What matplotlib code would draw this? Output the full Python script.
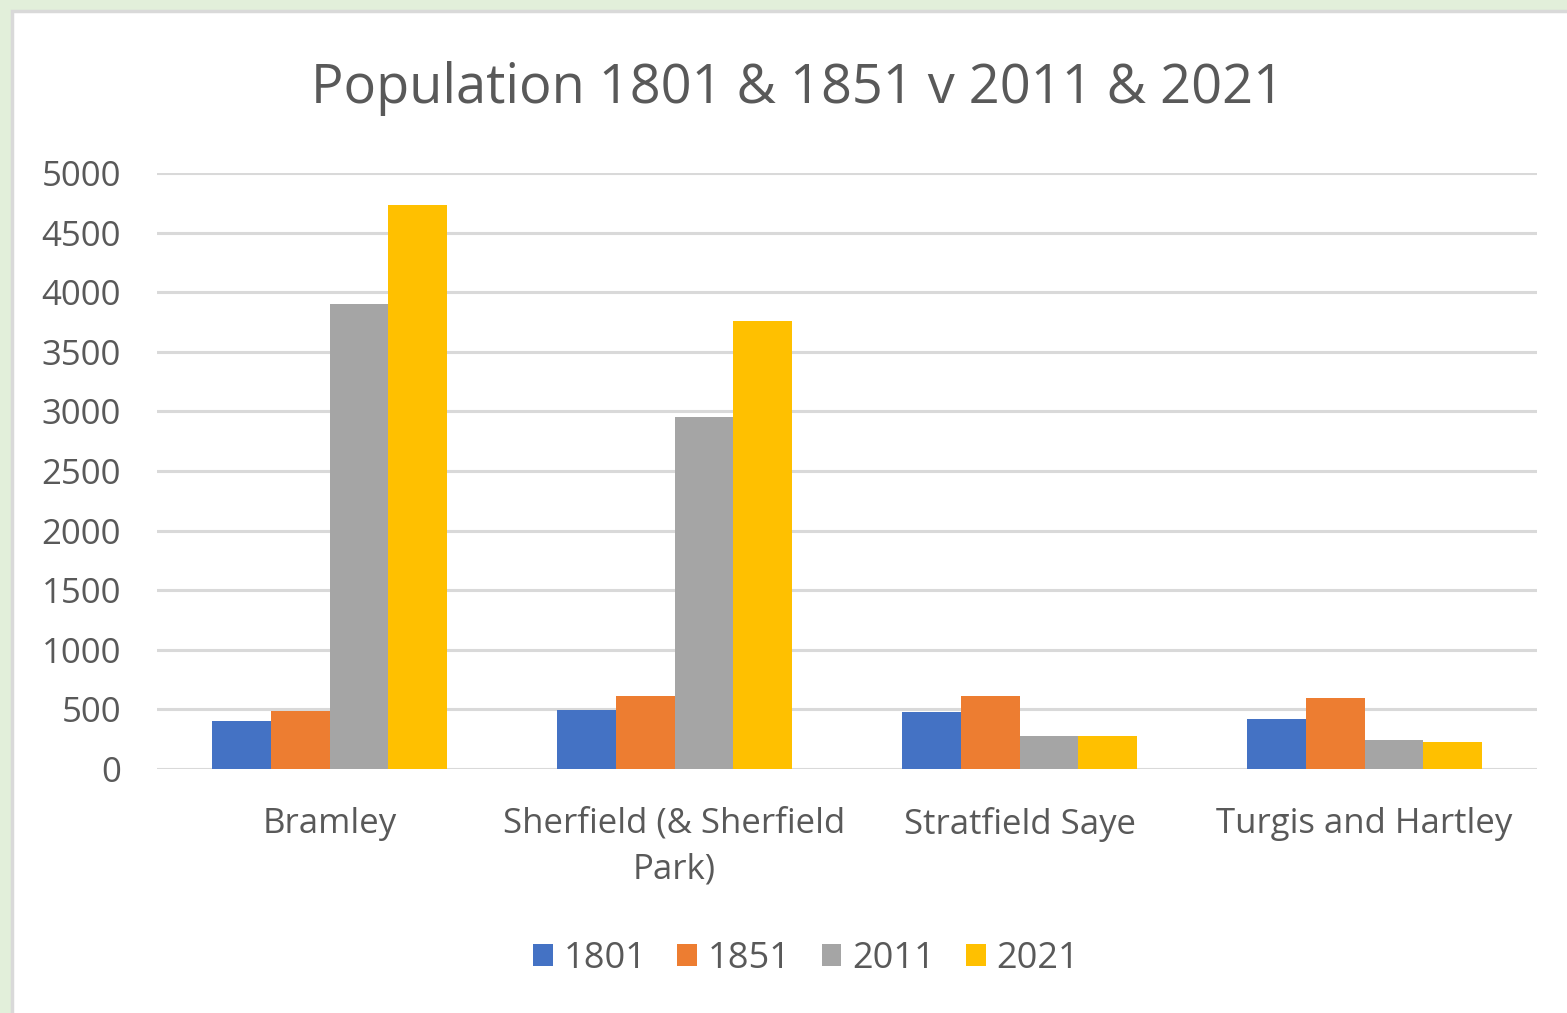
import numpy as np
import matplotlib.pyplot as plt
from matplotlib.patches import Patch, Rectangle

plt.rcParams['font.family'] = ['Open Sans', 'DejaVu Sans']

# data
places = ["Bramley", "Sherfield (& Sherfield\nPark)", "Stratfield Saye", "Turgis and Hartley"]
years = ["1801", "1851", "2011", "2021"]
pop_1801 = [400, 495, 476, 419]
pop_1851 = [490, 615, 615, 593]
pop_2011 = [3900, 2956, 277, 243]
pop_2021 = [4730, 3761, 280, 226]
series = [pop_1801, pop_1851, pop_2011, pop_2021]
colors = ["#4472C4", "#ED7D31", "#A5A5A5", "#FFC000"]
yticks = [0, 500, 1000, 1500, 2000, 2500, 3000, 3500, 4000, 4500, 5000]

text_col = "#595959"
grid_col = "#D9D9D9"

fig = plt.figure(figsize=(15.67, 10.13), dpi=100)
fig.patch.set_facecolor("#E2EFDA")
# white chart area with grey border
fig.patches.append(Rectangle((12 / 1567, -0.05), 1.1, 1 - 11 / 1013 + 0.05,
                             transform=fig.transFigure, facecolor="white",
                             edgecolor=grid_col, linewidth=2.5, zorder=-10))

ax = fig.add_axes([157 / 1567, 244 / 1013, 1380 / 1567, 596 / 1013])
ax.set_facecolor("none")

x = np.arange(len(places))
w = 0.17
for i, vals in enumerate(series):
    ax.bar(x + (i - 1.5) * w, vals, width=w, color=colors[i], zorder=3)

ax.set_xlim(-0.5, len(places) - 0.5)
ax.set_ylim(0, 5000)
ax.set_yticks(yticks)
ax.set_xticks(x)
ax.set_xticklabels(places, linespacing=1.45)
ax.grid(axis="y", color=grid_col, linewidth=2.2, zorder=0)
for s in ax.spines.values():
    s.set_visible(False)
ax.tick_params(axis="both", length=0, labelsize=25, colors=text_col)
ax.tick_params(axis="y", pad=26)
ax.tick_params(axis="x", pad=27)

fig.text(798 / 1567, 1 - 88 / 1013, "Population 1801 & 1851 v 2011 & 2021",
         ha="center", va="center", fontsize=39, color=text_col)

handles = [Patch(facecolor=c) for c in colors]
leg = fig.legend(handles, years, loc="center", bbox_to_anchor=(806 / 1567, 1 - 959 / 1013),
                 ncol=4, frameon=False, fontsize=26, handlelength=0.55, handleheight=0.55,
                 handletextpad=0.3, columnspacing=0.85)
for t in leg.get_texts():
    t.set_color(text_col)

fig.savefig("out.png", dpi=100, facecolor=fig.get_facecolor())
